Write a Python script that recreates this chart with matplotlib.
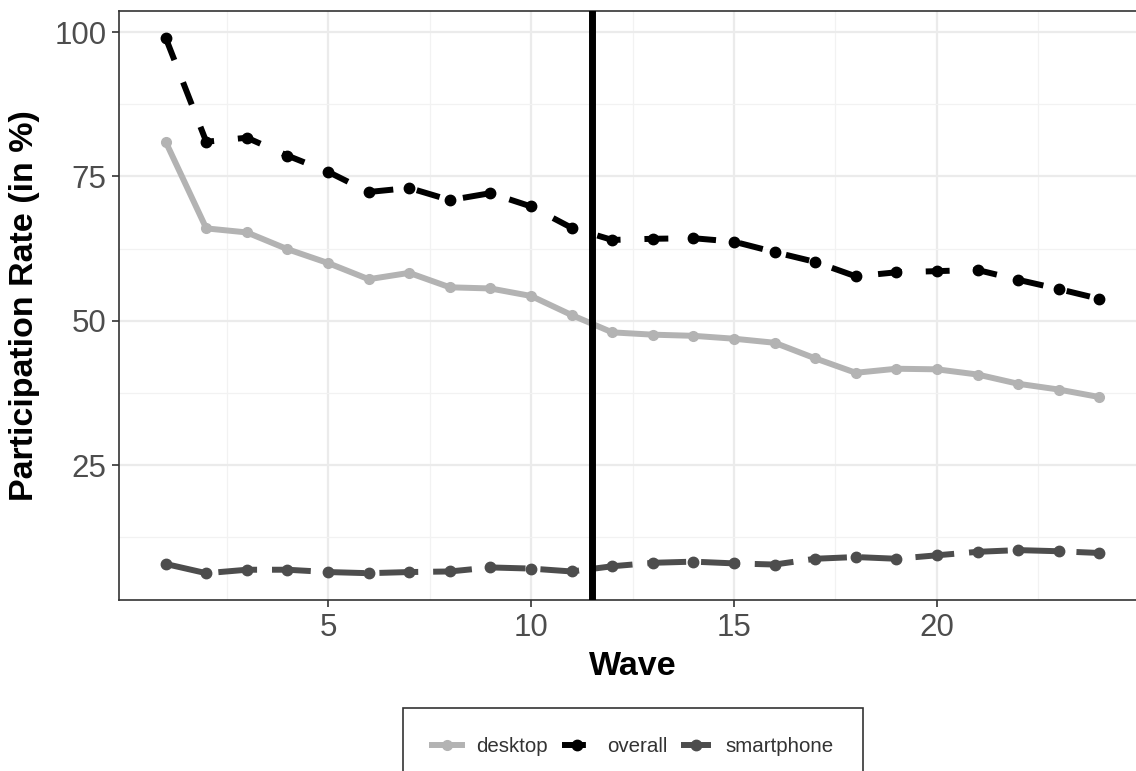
import matplotlib
matplotlib.use("Agg")
import matplotlib.pyplot as plt
from matplotlib.lines import Line2D

waves = list(range(1, 25))
overall = [99.0, 81.0, 81.7, 78.6, 75.8, 72.3, 73.0, 70.9, 72.1, 69.8, 66.1, 64.0,
           64.2, 64.3, 63.7, 61.9, 60.2, 57.7, 58.4, 58.6, 58.8, 57.1, 55.5, 53.8]
desktop = [81.0, 66.0, 65.3, 62.4, 60.0, 57.2, 58.3, 55.8, 55.6, 54.3, 51.0, 48.0,
           47.6, 47.4, 46.9, 46.2, 43.5, 41.0, 41.7, 41.6, 40.7, 39.1, 38.1, 36.8]
smartphone = [7.9, 6.3, 6.9, 6.9, 6.5, 6.3, 6.5, 6.6, 7.3, 7.1, 6.6, 7.5,
              8.1, 8.3, 8.0, 7.8, 8.8, 9.1, 8.8, 9.4, 10.0, 10.3, 10.1, 9.8]
switch_wave = 11.5
x_ticks = [5, 10, 15, 20]
y_ticks = [25, 50, 75, 100]

plt.rcParams['font.family'] = ['Liberation Sans', 'DejaVu Sans']

fig = plt.figure(figsize=(11.36, 7.71), dpi=100)
ax = fig.add_axes([119/1136, 1-600/771, (1146-119)/1136, (600-11)/771])

c_desk = '#B3B3B3'
c_over = '#000000'
c_smart = '#4D4D4D'
lw = 4.3

ax.plot(waves, desktop, color=c_desk, lw=lw, marker='o', ms=7, solid_capstyle='butt', zorder=3)
ax.plot(waves, overall, color=c_over, lw=lw, marker='o', ms=7.5, dashes=(4, 4), zorder=4)
ax.plot(waves, smartphone, color=c_smart, lw=lw, marker='o', ms=7.5, dashes=(6.5, 2.5), zorder=3)
ax.axvline(switch_wave, color='black', lw=5, zorder=5)

ax.set_xlim(-0.15, 25.15)
ax.set_ylim(1.66, 103.64)
ax.set_xticks(x_ticks)
ax.set_yticks(y_ticks)
ax.set_xticks([2.5, 7.5, 12.5, 17.5, 22.5], minor=True)
ax.set_yticks([12.5, 37.5, 62.5, 87.5], minor=True)
ax.grid(which='major', color='#EBEBEB', lw=1.6, zorder=0)
ax.grid(which='minor', color='#F2F2F2', lw=0.9, zorder=0)
ax.set_axisbelow(True)
ax.tick_params(which='major', length=5, width=1.2, color='#333333', labelsize=22.5,
               labelcolor='#4D4D4D', pad=4)
ax.tick_params(which='minor', length=0)
for s in ax.spines.values():
    s.set_color('#333333')
    s.set_linewidth(1.2)

ax.set_xlabel('Wave', fontsize=24.5, fontweight='bold', labelpad=6)
ax.set_ylabel('Participation Rate (in %)', fontsize=24.5, fontweight='bold', labelpad=10)

handles = [
    Line2D([], [], color=c_desk, lw=lw, marker='o', ms=7),
    Line2D([], [], color=c_over, lw=lw, marker='o', ms=7.5, dashes=(4, 4)),
    Line2D([], [], color=c_smart, lw=lw, marker='o', ms=7.5, dashes=(6.5, 2.5)),
]
leg = fig.legend(handles, ['desktop', 'overall', 'smartphone'], loc='upper center',
                 bbox_to_anchor=(633/1136, 1-708/771), ncol=3, fontsize=14.8,
                 frameon=True, fancybox=False, edgecolor='black', handlelength=1.45,
                 handletextpad=0.7, columnspacing=0.7, borderpad=1.4, borderaxespad=0)
leg.get_frame().set_linewidth(1.2)
for t in leg.get_texts():
    t.set_color('#333333')

fig.savefig('out.png', dpi=100)
